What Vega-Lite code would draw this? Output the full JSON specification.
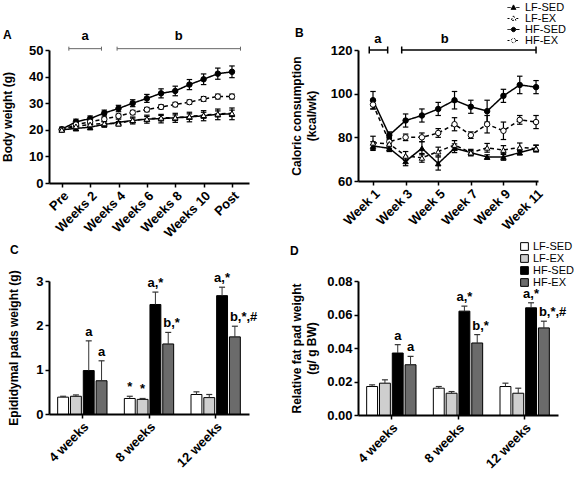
{
  "$schema": "https://vega.github.io/schema/vega-lite/v6.json",
  "background": "white",
  "padding": {"left": 0, "top": 2, "right": 0, "bottom": 0},
  "config": {
    "font": "Liberation Sans",
    "view": {"stroke": null},
    "axis": {"domainColor": "black", "domainWidth": 2, "tickColor": "black", "tickWidth": 1.5, "tickSize": 4, "labelFont": "Liberation Sans", "labelFontWeight": "bold", "labelFontSize": 13, "labelColor": "black", "labelPadding": 2, "labelOverlap": false, "titleFont": "Liberation Sans", "titleFontWeight": "bold", "titleFontSize": 12, "titleColor": "black", "grid": false},
    "legend": {"symbolStrokeColor": "black", "symbolBaseStrokeColor": "black"},
    "title": {"font": "Liberation Sans", "fontSize": 12, "fontWeight": "bold", "anchor": "start", "frame": "group", "color": "black", "offset": 0}
  },
  "resolve": {"scale": {"fill": "independent", "shape": "independent", "strokeDash": "independent", "stroke": "independent"}, "legend": {"fill": "independent", "shape": "independent", "strokeDash": "independent", "stroke": "independent"}},
  "columns": 2,
  "bounds": "flush",
  "spacing": {"row": 98, "column": 109},
  "concat": [
    {
      "width": 200, "height": 133,
      "title": {"text": "A", "dx": -46, "dy": 16},
      "data": {"values": [
        {"t":0,"g":"HF-SED","m":20.2,"lo":19.4,"hi":21.0},{"t":1,"g":"HF-SED","m":23.0,"lo":22.0,"hi":24.0},{"t":2,"g":"HF-SED","m":24.2,"lo":23.2,"hi":25.2},{"t":3,"g":"HF-SED","m":26.3,"lo":25.2,"hi":27.4},{"t":4,"g":"HF-SED","m":28.0,"lo":26.8,"hi":29.2},{"t":5,"g":"HF-SED","m":30.0,"lo":28.7,"hi":31.3},{"t":6,"g":"HF-SED","m":31.8,"lo":30.3,"hi":33.3},{"t":7,"g":"HF-SED","m":33.7,"lo":32.0,"hi":35.4},{"t":8,"g":"HF-SED","m":34.6,"lo":32.8,"hi":36.4},{"t":9,"g":"HF-SED","m":37.0,"lo":35.1,"hi":38.9},{"t":10,"g":"HF-SED","m":39.0,"lo":37.0,"hi":41.0},{"t":11,"g":"HF-SED","m":41.1,"lo":39.0,"hi":43.2},{"t":12,"g":"HF-SED","m":41.8,"lo":39.6,"hi":44.0},
        {"t":0,"g":"HF-EX","m":20.0,"lo":19.5,"hi":20.5},{"t":1,"g":"HF-EX","m":22.0,"lo":21.4,"hi":22.6},{"t":2,"g":"HF-EX","m":23.0,"lo":22.4,"hi":23.6},{"t":3,"g":"HF-EX","m":24.0,"lo":23.3,"hi":24.7},{"t":4,"g":"HF-EX","m":25.2,"lo":24.5,"hi":25.9},{"t":5,"g":"HF-EX","m":26.5,"lo":25.7,"hi":27.3},{"t":6,"g":"HF-EX","m":27.6,"lo":26.8,"hi":28.4},{"t":7,"g":"HF-EX","m":28.6,"lo":27.8,"hi":29.4},{"t":8,"g":"HF-EX","m":29.5,"lo":28.7,"hi":30.3},{"t":9,"g":"HF-EX","m":30.4,"lo":29.6,"hi":31.2},{"t":10,"g":"HF-EX","m":31.6,"lo":30.7,"hi":32.5},{"t":11,"g":"HF-EX","m":32.5,"lo":31.6,"hi":33.4},{"t":12,"g":"HF-EX","m":32.5,"lo":31.6,"hi":33.4},
        {"t":0,"g":"LF-SED","m":20.0,"lo":19.5,"hi":20.5},{"t":1,"g":"LF-SED","m":20.5,"lo":19.7,"hi":21.3},{"t":2,"g":"LF-SED","m":21.0,"lo":20.0,"hi":22.0},{"t":3,"g":"LF-SED","m":22.0,"lo":21.0,"hi":23.0},{"t":4,"g":"LF-SED","m":22.8,"lo":21.6,"hi":24.0},{"t":5,"g":"LF-SED","m":23.5,"lo":22.2,"hi":24.8},{"t":6,"g":"LF-SED","m":24.0,"lo":22.5,"hi":25.5},{"t":7,"g":"LF-SED","m":24.2,"lo":22.6,"hi":25.8},{"t":8,"g":"LF-SED","m":24.5,"lo":22.8,"hi":26.2},{"t":9,"g":"LF-SED","m":24.8,"lo":23.0,"hi":26.6},{"t":10,"g":"LF-SED","m":25.3,"lo":23.4,"hi":27.2},{"t":11,"g":"LF-SED","m":25.8,"lo":23.8,"hi":27.8},{"t":12,"g":"LF-SED","m":26.0,"lo":23.8,"hi":28.2},
        {"t":0,"g":"LF-EX","m":20.0,"lo":19.5,"hi":20.5},{"t":1,"g":"LF-EX","m":21.3,"lo":20.7,"hi":21.9},{"t":2,"g":"LF-EX","m":22.0,"lo":21.3,"hi":22.7},{"t":3,"g":"LF-EX","m":22.4,"lo":21.7,"hi":23.1},{"t":4,"g":"LF-EX","m":22.3,"lo":21.5,"hi":23.1},{"t":5,"g":"LF-EX","m":23.6,"lo":22.8,"hi":24.4},{"t":6,"g":"LF-EX","m":24.1,"lo":23.2,"hi":25.0},{"t":7,"g":"LF-EX","m":24.5,"lo":23.6,"hi":25.4},{"t":8,"g":"LF-EX","m":24.6,"lo":23.6,"hi":25.6},{"t":9,"g":"LF-EX","m":25.0,"lo":24.0,"hi":26.0},{"t":10,"g":"LF-EX","m":25.5,"lo":24.4,"hi":26.6},{"t":11,"g":"LF-EX","m":26.0,"lo":24.9,"hi":27.1},{"t":12,"g":"LF-EX","m":26.2,"lo":25.0,"hi":27.4}
      ]},
      "layer": [
        {
          "mark": {"type": "line", "color": "black", "strokeWidth": 1.5},
          "encoding": {
            "x": {"field": "t", "type": "quantitative", "scale": {"domain": [-0.9, 13.2], "nice": false, "zero": false}, "axis": {"title": null, "values": [0,2,4,6,8,10,12], "tickCount": 30, "labelAngle": -45, "labelOverlap": false, "labelExpr": "datum.value == 0 ? 'Pre' : datum.value == 12 ? 'Post' : 'Weeks ' + datum.value"}},
            "y": {"field": "m", "type": "quantitative", "scale": {"domain": [0, 50], "nice": false}, "axis": {"title": "Body weight (g)", "values": [0,10,20,30,40,50], "tickCount": 30, "format": "d", "labelOverlap": false, "titleX": -35}},
            "strokeDash": {"field": "g", "type": "nominal", "scale": {"domain": ["LF-SED","LF-EX","HF-SED","HF-EX"], "range": [[1,0],[4,3],[1,0],[4,3]]}, "legend": null}
          }
        },
        {
          "mark": {"type": "rule", "color": "black", "strokeWidth": 1.2},
          "encoding": {"x": {"field": "t", "type": "quantitative"}, "y": {"field": "lo", "type": "quantitative"}, "y2": {"field": "hi"}}
        },
        {
          "mark": {"type": "point", "shape": "M-1,0H1", "size": 30, "stroke": "black", "strokeWidth": 1.2, "filled": false, "opacity": 1},
          "encoding": {"x": {"field": "t", "type": "quantitative"}, "y": {"field": "lo", "type": "quantitative"}}
        },
        {
          "mark": {"type": "point", "shape": "M-1,0H1", "size": 30, "stroke": "black", "strokeWidth": 1.2, "filled": false, "opacity": 1},
          "encoding": {"x": {"field": "t", "type": "quantitative"}, "y": {"field": "hi", "type": "quantitative"}}
        },
        {
          "mark": {"type": "point", "filled": true, "stroke": "black", "strokeWidth": 1, "size": 30, "opacity": 1},
          "encoding": {
            "x": {"field": "t", "type": "quantitative"},
            "y": {"field": "m", "type": "quantitative"},
            "shape": {"field": "g", "type": "nominal", "scale": {"domain": ["LF-SED","LF-EX","HF-SED","HF-EX"], "range": ["triangle-up","triangle-up","circle","circle"]}, "legend": null},
            "fill": {"field": "g", "type": "nominal", "scale": {"domain": ["LF-SED","LF-EX","HF-SED","HF-EX"], "range": ["black","white","black","white"]}, "legend": null}
          }
        },
        {
          "data": {"values": [{"x1": 0.5, "x2": 2.8, "xm": 1.65, "y": 50.5, "ty": 52.5, "lab": "a"}, {"x1": 3.9, "x2": 12.6, "xm": 8.25, "y": 50.5, "ty": 52.5, "lab": "b"}]},
          "layer": [
            {"mark": {"type": "rule", "color": "#666", "strokeWidth": 1}, "encoding": {"x": {"field": "x1", "type": "quantitative"}, "x2": {"field": "x2"}, "y": {"field": "y", "type": "quantitative"}}},
            {"mark": {"type": "point", "shape": "M0,-1V1", "size": 16, "stroke": "#666", "strokeWidth": 1, "filled": false, "opacity": 1}, "encoding": {"x": {"field": "x1", "type": "quantitative"}, "y": {"field": "y", "type": "quantitative"}}},
            {"mark": {"type": "point", "shape": "M0,-1V1", "size": 16, "stroke": "#666", "strokeWidth": 1, "filled": false, "opacity": 1}, "encoding": {"x": {"field": "x2", "type": "quantitative"}, "y": {"field": "y", "type": "quantitative"}}},
            {"mark": {"type": "text", "fontSize": 13, "fontWeight": "bold", "baseline": "bottom", "font": "Liberation Sans"}, "encoding": {"x": {"field": "xm", "type": "quantitative"}, "y": {"field": "ty", "type": "quantitative"}, "text": {"field": "lab"}}}
          ]
        }
      ]
    },
    {
      "width": 180, "height": 131,
      "title": {"text": "B", "dx": -63, "dy": 42},
      "data": {"values": [
        {"w":1,"g":"HF-SED","m":97,"lo":93,"hi":101},{"w":2,"g":"HF-SED","m":81,"lo":79.5,"hi":82.5},{"w":3,"g":"HF-SED","m":87.7,"lo":84.7,"hi":90.7},{"w":4,"g":"HF-SED","m":90,"lo":87,"hi":93},{"w":5,"g":"HF-SED","m":93,"lo":90,"hi":96},{"w":6,"g":"HF-SED","m":97,"lo":93,"hi":101},{"w":7,"g":"HF-SED","m":94,"lo":91,"hi":97},{"w":8,"g":"HF-SED","m":92,"lo":87,"hi":97},{"w":9,"g":"HF-SED","m":99,"lo":96,"hi":102},{"w":10,"g":"HF-SED","m":104,"lo":100,"hi":108},{"w":11,"g":"HF-SED","m":103,"lo":100,"hi":106},
        {"w":1,"g":"HF-EX","m":95,"lo":93,"hi":97},{"w":2,"g":"HF-EX","m":78,"lo":76,"hi":80},{"w":3,"g":"HF-EX","m":80,"lo":78.5,"hi":81.5},{"w":4,"g":"HF-EX","m":80,"lo":78,"hi":82},{"w":5,"g":"HF-EX","m":82,"lo":80,"hi":84},{"w":6,"g":"HF-EX","m":86,"lo":83,"hi":89},{"w":7,"g":"HF-EX","m":81,"lo":79.5,"hi":82.5},{"w":8,"g":"HF-EX","m":86,"lo":82,"hi":90},{"w":9,"g":"HF-EX","m":83,"lo":79,"hi":87},{"w":10,"g":"HF-EX","m":88,"lo":86,"hi":90},{"w":11,"g":"HF-EX","m":87,"lo":84,"hi":90},
        {"w":1,"g":"LF-SED","m":76,"lo":74,"hi":78},{"w":2,"g":"LF-SED","m":75,"lo":73.5,"hi":76.5},{"w":3,"g":"LF-SED","m":69,"lo":67,"hi":71},{"w":4,"g":"LF-SED","m":75,"lo":72,"hi":78},{"w":5,"g":"LF-SED","m":68,"lo":65,"hi":71},{"w":6,"g":"LF-SED","m":75,"lo":73,"hi":77},{"w":7,"g":"LF-SED","m":73,"lo":71.5,"hi":74.5},{"w":8,"g":"LF-SED","m":71,"lo":70,"hi":72},{"w":9,"g":"LF-SED","m":71,"lo":69.5,"hi":72.5},{"w":10,"g":"LF-SED","m":73,"lo":72,"hi":74},{"w":11,"g":"LF-SED","m":75,"lo":73.5,"hi":76.5},
        {"w":1,"g":"LF-EX","m":77.5,"lo":74.5,"hi":80.5},{"w":2,"g":"LF-EX","m":77,"lo":75,"hi":79},{"w":3,"g":"LF-EX","m":71.5,"lo":69.5,"hi":73.5},{"w":4,"g":"LF-EX","m":70.6,"lo":68.6,"hi":72.6},{"w":5,"g":"LF-EX","m":73.5,"lo":71.5,"hi":75.5},{"w":6,"g":"LF-EX","m":76.5,"lo":74.5,"hi":78.5},{"w":7,"g":"LF-EX","m":73,"lo":72,"hi":74},{"w":8,"g":"LF-EX","m":75.2,"lo":73.2,"hi":77.2},{"w":9,"g":"LF-EX","m":74.2,"lo":72.2,"hi":76.2},{"w":10,"g":"LF-EX","m":75.4,"lo":73.4,"hi":77.4},{"w":11,"g":"LF-EX","m":74.8,"lo":73.3,"hi":76.3}
      ]},
      "resolve": {"scale": {"shape": "independent", "fill": "independent", "strokeDash": "independent", "stroke": "independent"}},
      "layer": [
        {
          "mark": {"type": "line", "color": "black", "strokeWidth": 1.5},
          "encoding": {
            "x": {"field": "w", "type": "quantitative", "scale": {"domain": [0.08, 11.12], "nice": false, "zero": false}, "axis": {"title": null, "values": [1,3,5,7,9,11], "tickCount": 30, "labelAngle": -45, "labelOverlap": false, "labelExpr": "'Week ' + datum.value"}},
            "y": {"field": "m", "type": "quantitative", "scale": {"domain": [60, 120], "nice": false, "zero": false}, "axis": {"title": ["Caloric consumption", "(kcal/wk)"], "titleLineHeight": 15, "values": [60,80,100,120], "tickCount": 30, "format": "d", "labelOverlap": false, "titleX": -55}},
            "strokeDash": {"field": "g", "type": "nominal", "scale": {"domain": ["LF-SED","LF-EX","HF-SED","HF-EX"], "range": [[1,0],[4,3],[1,0],[4,3]]}, "legend": null}
          }
        },
        {
          "mark": {"type": "rule", "color": "black", "strokeWidth": 1.2},
          "encoding": {"x": {"field": "w", "type": "quantitative"}, "y": {"field": "lo", "type": "quantitative"}, "y2": {"field": "hi"}}
        },
        {
          "mark": {"type": "point", "shape": "M-1,0H1", "size": 30, "stroke": "black", "strokeWidth": 1.2, "filled": false, "opacity": 1},
          "encoding": {"x": {"field": "w", "type": "quantitative"}, "y": {"field": "lo", "type": "quantitative"}}
        },
        {
          "mark": {"type": "point", "shape": "M-1,0H1", "size": 30, "stroke": "black", "strokeWidth": 1.2, "filled": false, "opacity": 1},
          "encoding": {"x": {"field": "w", "type": "quantitative"}, "y": {"field": "hi", "type": "quantitative"}}
        },
        {
          "mark": {"type": "point", "filled": true, "stroke": "black", "strokeWidth": 1, "size": 30, "opacity": 1},
          "encoding": {
            "x": {"field": "w", "type": "quantitative"},
            "y": {"field": "m", "type": "quantitative"},
            "shape": {"field": "g", "type": "nominal", "scale": {"domain": ["LF-SED","LF-EX","HF-SED","HF-EX"], "range": ["triangle-up","triangle-up","circle","circle"]}, "legend": null},
            "fill": {"field": "g", "type": "nominal", "scale": {"domain": ["LF-SED","LF-EX","HF-SED","HF-EX"], "range": ["black","white","black","white"]}, "legend": null}
          }
        },
        {
          "data": {"values": [{"x1": 0.77, "x2": 1.9, "xm": 1.3, "y": 120, "ty": 122, "lab": "a"}, {"x1": 2.76, "x2": 11.0, "xm": 5.4, "y": 120, "ty": 122, "lab": "b"}]},
          "layer": [
            {"mark": {"type": "rule", "color": "black", "strokeWidth": 1.5}, "encoding": {"x": {"field": "x1", "type": "quantitative"}, "x2": {"field": "x2"}, "y": {"field": "y", "type": "quantitative"}}},
            {"mark": {"type": "point", "shape": "M0,-1V1", "size": 49, "stroke": "black", "strokeWidth": 1.5, "filled": false, "opacity": 1}, "encoding": {"x": {"field": "x1", "type": "quantitative"}, "y": {"field": "y", "type": "quantitative"}}},
            {"mark": {"type": "point", "shape": "M0,-1V1", "size": 49, "stroke": "black", "strokeWidth": 1.5, "filled": false, "opacity": 1}, "encoding": {"x": {"field": "x2", "type": "quantitative"}, "y": {"field": "y", "type": "quantitative"}}},
            {"mark": {"type": "text", "fontSize": 13, "fontWeight": "bold", "baseline": "bottom", "font": "Liberation Sans"}, "encoding": {"x": {"field": "xm", "type": "quantitative"}, "y": {"field": "ty", "type": "quantitative"}, "text": {"field": "lab"}}}
          ]
        },
        {
          "data": {"values": []},
          "mark": {"type": "point", "filled": false, "color": "black", "stroke": "black", "strokeWidth": 1, "opacity": 1},
          "encoding": {
            "x": {"field": "w", "type": "quantitative"},
            "y": {"field": "m", "type": "quantitative"},
            "shape": {"field": "g", "type": "nominal", "scale": {"domain": ["LF-SED","LF-EX","HF-SED","HF-EX"], "range": ["M-1.5,0H-0.7M0.7,0H1.5M0,-0.65L0.62,0.45L-0.62,0.45Z","M-1.5,0H-0.7M0.7,0H1.5M0,-0.65L0.62,0.45L-0.62,0.45Z","M-1.5,0H-0.62M0.62,0H1.5M0.55,0A0.55,0.55,0,1,1,-0.55,0A0.55,0.55,0,1,1,0.55,0Z","M-1.5,0H-0.62M0.62,0H1.5M0.55,0A0.55,0.55,0,1,1,-0.55,0A0.55,0.55,0,1,1,0.55,0Z"]}, "legend": {"orient": "none", "legendX": 150, "legendY": -48, "title": null, "labelFont": "Liberation Sans", "labelFontSize": 11, "labelFontWeight": "normal", "labelColor": "black", "symbolSize": 64, "rowPadding": -3, "labelOffset": 6, "symbolStrokeWidth": 1, "symbolStrokeColor": "black"}},
            "fill": {"field": "g", "type": "nominal", "scale": {"domain": ["LF-SED","LF-EX","HF-SED","HF-EX"], "range": ["black","white","black","white"]}, "legend": {"orient": "none", "legendX": 150, "legendY": -48, "title": null, "labelFont": "Liberation Sans", "labelFontSize": 11, "labelFontWeight": "normal", "labelColor": "black", "symbolSize": 64, "rowPadding": -3, "labelOffset": 6, "symbolStrokeWidth": 1, "symbolStrokeColor": "black"}},
            "stroke": {"field": "g", "type": "nominal", "scale": {"domain": ["LF-SED","LF-EX","HF-SED","HF-EX"], "range": ["black","black","black","black"]}, "legend": {"orient": "none", "legendX": 150, "legendY": -48, "title": null, "labelFont": "Liberation Sans", "labelFontSize": 11, "labelFontWeight": "normal", "labelColor": "black", "symbolSize": 64, "rowPadding": -3, "labelOffset": 6, "symbolStrokeWidth": 1, "symbolStrokeColor": "black"}},
            "strokeDash": {"field": "g", "type": "nominal", "scale": {"domain": ["LF-SED","LF-EX","HF-SED","HF-EX"], "range": [[1,0],[2,1.5],[1,0],[2,1.5]]}, "legend": {"orient": "none", "legendX": 150, "legendY": -48, "title": null, "labelFont": "Liberation Sans", "labelFontSize": 11, "labelFontWeight": "normal", "labelColor": "black", "symbolSize": 64, "rowPadding": -3, "labelOffset": 6, "symbolStrokeWidth": 1, "symbolStrokeColor": "black"}}
          }
        }
      ]
    },
    {
      "width": 200, "height": 133,
      "title": {"text": "C", "dx": -39, "dy": -9},
      "data": {"values": [
        {"w":"4 weeks","g":"LF-SED","v":0.38,"hi":0.40,"lab":""},{"w":"4 weeks","g":"LF-EX","v":0.40,"hi":0.43,"lab":""},{"w":"4 weeks","g":"HF-SED","v":0.98,"hi":1.65,"lab":"a"},{"w":"4 weeks","g":"HF-EX","v":0.75,"hi":1.20,"lab":"a"},
        {"w":"8 weeks","g":"LF-SED","v":0.35,"hi":0.40,"lab":"*"},{"w":"8 weeks","g":"LF-EX","v":0.33,"hi":0.35,"lab":"*"},{"w":"8 weeks","g":"HF-SED","v":2.47,"hi":2.75,"lab":"a,*"},{"w":"8 weeks","g":"HF-EX","v":1.58,"hi":1.84,"lab":"b,*"},
        {"w":"12 weeks","g":"LF-SED","v":0.44,"hi":0.50,"lab":""},{"w":"12 weeks","g":"LF-EX","v":0.37,"hi":0.44,"lab":""},{"w":"12 weeks","g":"HF-SED","v":2.67,"hi":2.86,"lab":"a,*"},{"w":"12 weeks","g":"HF-EX","v":1.74,"hi":1.98,"lab":"b,*,#"}
      ]},
      "layer": [
        {
          "mark": {"type": "bar", "stroke": "black", "strokeWidth": 1},
          "encoding": {
            "x": {"field": "w", "type": "nominal", "sort": ["4 weeks","8 weeks","12 weeks"], "scale": {"paddingInner": 0.26, "paddingOuter": 0.13}, "axis": {"title": null, "labelAngle": -45, "labelOverlap": false}},
            "xOffset": {"field": "g", "type": "nominal", "sort": ["LF-SED","LF-EX","HF-SED","HF-EX"], "scale": {"paddingInner": 0.15, "paddingOuter": 0}},
            "y": {"field": "v", "type": "quantitative", "scale": {"domain": [0, 3], "nice": false}, "axis": {"title": "Epididymal pads weight (g)", "values": [0,1,2,3], "tickCount": 30, "format": "d", "labelOverlap": false, "titleX": -29}},
            "fill": {"field": "g", "type": "nominal", "scale": {"domain": ["LF-SED","LF-EX","HF-SED","HF-EX"], "range": ["white","#cfcfcf","black","#6b6b6b"]}, "legend": null}
          }
        },
        {
          "mark": {"type": "rule", "color": "#333", "strokeWidth": 1},
          "encoding": {"x": {"field": "w", "type": "nominal", "sort": ["4 weeks","8 weeks","12 weeks"]}, "xOffset": {"field": "g", "type": "nominal", "sort": ["LF-SED","LF-EX","HF-SED","HF-EX"]}, "y": {"field": "v", "type": "quantitative"}, "y2": {"field": "hi"}}
        },
        {
          "mark": {"type": "point", "shape": "M-1,0H1", "size": 36, "stroke": "#333", "strokeWidth": 1.2, "filled": false, "opacity": 1},
          "encoding": {"x": {"field": "w", "type": "nominal", "sort": ["4 weeks","8 weeks","12 weeks"]}, "xOffset": {"field": "g", "type": "nominal", "sort": ["LF-SED","LF-EX","HF-SED","HF-EX"]}, "y": {"field": "hi", "type": "quantitative"}}
        },
        {
          "transform": [{"filter": "datum.lab != '' && indexof(datum.lab, 'b') != 0"}],
          "mark": {"type": "text", "fontSize": 13, "fontWeight": "bold", "baseline": "bottom", "dy": -2, "font": "Liberation Sans"},
          "encoding": {"x": {"field": "w", "type": "nominal", "sort": ["4 weeks","8 weeks","12 weeks"]}, "xOffset": {"field": "g", "type": "nominal", "sort": ["LF-SED","LF-EX","HF-SED","HF-EX"]}, "y": {"field": "hi", "type": "quantitative"}, "text": {"field": "lab"}}
        },
        {
          "transform": [{"filter": "indexof(datum.lab, 'b') == 0"}],
          "mark": {"type": "text", "fontSize": 13, "fontWeight": "bold", "baseline": "bottom", "align": "left", "dx": -5, "dy": -2, "font": "Liberation Sans"},
          "encoding": {"x": {"field": "w", "type": "nominal", "sort": ["4 weeks","8 weeks","12 weeks"]}, "xOffset": {"field": "g", "type": "nominal", "sort": ["LF-SED","LF-EX","HF-SED","HF-EX"]}, "y": {"field": "hi", "type": "quantitative"}, "text": {"field": "lab"}}
        }
      ]
    },
    {
      "width": 200, "height": 134,
      "title": {"text": "D", "dx": -68, "dy": 21},
      "data": {"values": [
        {"w":"4 weeks","g":"LF-SED","v":0.017,"hi":0.018,"lab":""},{"w":"4 weeks","g":"LF-EX","v":0.019,"hi":0.021,"lab":""},{"w":"4 weeks","g":"HF-SED","v":0.037,"hi":0.042,"lab":"a"},{"w":"4 weeks","g":"HF-EX","v":0.030,"hi":0.035,"lab":"a"},
        {"w":"8 weeks","g":"LF-SED","v":0.016,"hi":0.017,"lab":""},{"w":"8 weeks","g":"LF-EX","v":0.013,"hi":0.014,"lab":""},{"w":"8 weeks","g":"HF-SED","v":0.062,"hi":0.065,"lab":"a,*"},{"w":"8 weeks","g":"HF-EX","v":0.043,"hi":0.048,"lab":"b,*"},
        {"w":"12 weeks","g":"LF-SED","v":0.017,"hi":0.019,"lab":""},{"w":"12 weeks","g":"LF-EX","v":0.013,"hi":0.016,"lab":""},{"w":"12 weeks","g":"HF-SED","v":0.064,"hi":0.067,"lab":"a,*"},{"w":"12 weeks","g":"HF-EX","v":0.052,"hi":0.056,"lab":"b,*,#"}
      ]},
      "layer": [
        {
          "mark": {"type": "bar", "stroke": "black", "strokeWidth": 1},
          "encoding": {
            "x": {"field": "w", "type": "nominal", "sort": ["4 weeks","8 weeks","12 weeks"], "scale": {"paddingInner": 0.26, "paddingOuter": 0.13}, "axis": {"title": null, "labelAngle": -45, "labelOverlap": false}},
            "xOffset": {"field": "g", "type": "nominal", "sort": ["LF-SED","LF-EX","HF-SED","HF-EX"], "scale": {"paddingInner": 0.15, "paddingOuter": 0}},
            "y": {"field": "v", "type": "quantitative", "scale": {"domain": [0, 0.08], "nice": false}, "axis": {"title": ["Relative fat pad weight", "(g/ g BW)"], "titleLineHeight": 15, "values": [0,0.02,0.04,0.06,0.08], "tickCount": 30, "format": ".2f", "labelOverlap": false, "titleX": -55}},
            "fill": {"field": "g", "type": "nominal", "scale": {"domain": ["LF-SED","LF-EX","HF-SED","HF-EX"], "range": ["white","#cfcfcf","black","#6b6b6b"]}, "legend": {"orient": "none", "legendX": 161, "legendY": -40, "title": null, "symbolType": "square", "symbolSize": 60, "symbolStrokeColor": "black", "symbolStrokeWidth": 1, "labelFont": "Liberation Sans", "labelFontSize": 11, "labelFontWeight": "normal", "labelColor": "black", "rowPadding": -4.5, "labelOffset": 3}}
          }
        },
        {
          "mark": {"type": "rule", "color": "#333", "strokeWidth": 1},
          "encoding": {"x": {"field": "w", "type": "nominal", "sort": ["4 weeks","8 weeks","12 weeks"]}, "xOffset": {"field": "g", "type": "nominal", "sort": ["LF-SED","LF-EX","HF-SED","HF-EX"]}, "y": {"field": "v", "type": "quantitative"}, "y2": {"field": "hi"}}
        },
        {
          "mark": {"type": "point", "shape": "M-1,0H1", "size": 36, "stroke": "#333", "strokeWidth": 1.2, "filled": false, "opacity": 1},
          "encoding": {"x": {"field": "w", "type": "nominal", "sort": ["4 weeks","8 weeks","12 weeks"]}, "xOffset": {"field": "g", "type": "nominal", "sort": ["LF-SED","LF-EX","HF-SED","HF-EX"]}, "y": {"field": "hi", "type": "quantitative"}}
        },
        {
          "transform": [{"filter": "datum.lab != '' && indexof(datum.lab, 'b') != 0"}],
          "mark": {"type": "text", "fontSize": 13, "fontWeight": "bold", "baseline": "bottom", "dy": -2, "font": "Liberation Sans"},
          "encoding": {"x": {"field": "w", "type": "nominal", "sort": ["4 weeks","8 weeks","12 weeks"]}, "xOffset": {"field": "g", "type": "nominal", "sort": ["LF-SED","LF-EX","HF-SED","HF-EX"]}, "y": {"field": "hi", "type": "quantitative"}, "text": {"field": "lab"}}
        },
        {
          "transform": [{"filter": "indexof(datum.lab, 'b') == 0"}],
          "mark": {"type": "text", "fontSize": 13, "fontWeight": "bold", "baseline": "bottom", "align": "left", "dx": -5, "dy": -2, "font": "Liberation Sans"},
          "encoding": {"x": {"field": "w", "type": "nominal", "sort": ["4 weeks","8 weeks","12 weeks"]}, "xOffset": {"field": "g", "type": "nominal", "sort": ["LF-SED","LF-EX","HF-SED","HF-EX"]}, "y": {"field": "hi", "type": "quantitative"}, "text": {"field": "lab"}}
        }
      ]
    }
  ]
}
